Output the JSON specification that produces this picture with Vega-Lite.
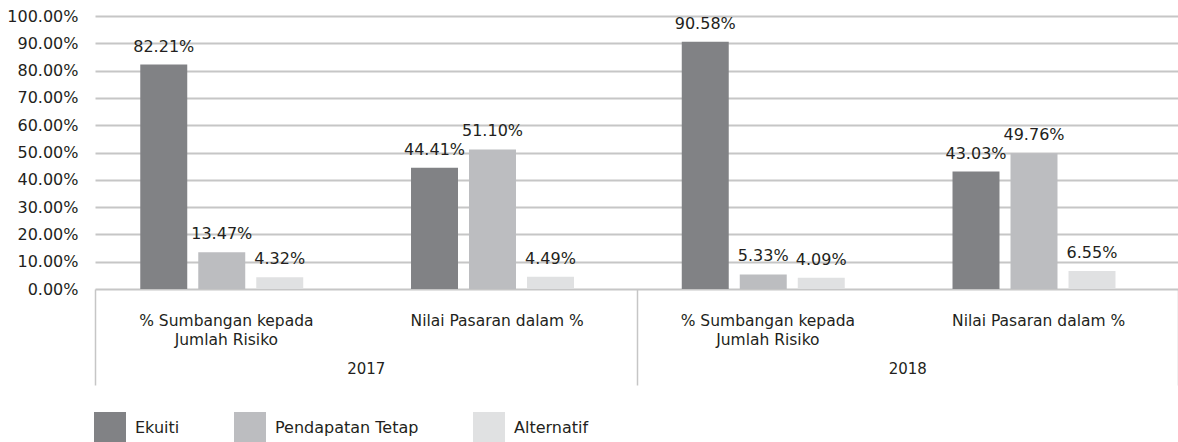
{
  "$schema": "https://vega.github.io/schema/vega-lite/v6.json",
  "width": 1083,
  "height": 273,
  "autosize": {"type": "none"},
  "padding": {"left": 95, "top": 16, "right": 0, "bottom": 153},
  "background": "white",
  "config": {
    "view": {"stroke": null},
    "font": "DejaVu Sans",
    "axis": {"labelFont": "DejaVu Sans", "labelColor": "#231f20"},
    "legend": {"labelFont": "DejaVu Sans", "labelColor": "#231f20"}
  },
  "data": {
    "values": [
      {"tahun": "2017", "kumpulan": "2017|% Sumbangan kepada|Jumlah Risiko", "jenis": "Ekuiti", "nilai": 0.8221},
      {"tahun": "2017", "kumpulan": "2017|% Sumbangan kepada|Jumlah Risiko", "jenis": "Pendapatan Tetap", "nilai": 0.1347},
      {"tahun": "2017", "kumpulan": "2017|% Sumbangan kepada|Jumlah Risiko", "jenis": "Alternatif", "nilai": 0.0432},
      {"tahun": "2017", "kumpulan": "2017|Nilai Pasaran dalam %", "jenis": "Ekuiti", "nilai": 0.4441},
      {"tahun": "2017", "kumpulan": "2017|Nilai Pasaran dalam %", "jenis": "Pendapatan Tetap", "nilai": 0.5110},
      {"tahun": "2017", "kumpulan": "2017|Nilai Pasaran dalam %", "jenis": "Alternatif", "nilai": 0.0449},
      {"tahun": "2018", "kumpulan": "2018|% Sumbangan kepada|Jumlah Risiko", "jenis": "Ekuiti", "nilai": 0.9058},
      {"tahun": "2018", "kumpulan": "2018|% Sumbangan kepada|Jumlah Risiko", "jenis": "Pendapatan Tetap", "nilai": 0.0533},
      {"tahun": "2018", "kumpulan": "2018|% Sumbangan kepada|Jumlah Risiko", "jenis": "Alternatif", "nilai": 0.0409},
      {"tahun": "2018", "kumpulan": "2018|Nilai Pasaran dalam %", "jenis": "Ekuiti", "nilai": 0.4303},
      {"tahun": "2018", "kumpulan": "2018|Nilai Pasaran dalam %", "jenis": "Pendapatan Tetap", "nilai": 0.4976},
      {"tahun": "2018", "kumpulan": "2018|Nilai Pasaran dalam %", "jenis": "Alternatif", "nilai": 0.0655}
    ]
  },
  "encoding": {
    "y": {
      "field": "nilai", "type": "quantitative",
      "scale": {"domain": [0, 1], "nice": false, "zero": true},
      "axis": {
        "title": null, "format": ".2%",
        "values": [0, 0.1, 0.2, 0.3, 0.4, 0.5, 0.6, 0.7, 0.8, 0.9, 1],
        "labelOverlap": false,
        "domain": false, "ticks": false, "labelPadding": 17, "labelFontSize": 16,
        "gridColor": "#c6c6c6", "gridWidth": 2
      }
    }
  },
  "layer": [
    {
      "mark": {"type": "bar"},
      "encoding": {
        "x": {
          "field": "kumpulan", "type": "nominal", "sort": null,
          "scale": {"paddingInner": 0, "paddingOuter": 0},
          "axis": {
            "title": null, "labelExpr": "slice(split(datum.value, '|'), 1)",
            "domain": false, "ticks": false, "grid": false, "labelAngle": 0,
            "labelPadding": 24, "labelFontSize": 15.5, "labelLineHeight": 19,
            "labelBaseline": "top", "labelLimit": 400, "labelOverlap": false, "labelBound": false,
            "labelOffset": -4
          }
        },
        "xOffset": {
          "field": "jenis", "type": "nominal",
          "sort": ["Ekuiti", "Pendapatan Tetap", "Alternatif"],
          "scale": {"paddingInner": 0.19, "paddingOuter": 0.929, "align": 0.42}
        },
        "color": {
          "field": "jenis", "type": "nominal",
          "sort": ["Ekuiti", "Pendapatan Tetap", "Alternatif"],
          "scale": {"domain": ["Ekuiti", "Pendapatan Tetap", "Alternatif"], "range": ["#818285", "#bcbdc0", "#e0e1e2"]},
          "legend": {
            "orient": "none", "legendX": -1, "legendY": 396, "direction": "horizontal",
            "title": null, "symbolType": "square", "symbolSize": 1024, "symbolStrokeWidth": 0,
            "symbolOpacity": 1, "labelFontSize": 16, "labelOffset": 9, "columnPadding": 54, "padding": 0
          }
        }
      }
    },
    {
      "mark": {"type": "text", "baseline": "alphabetic", "dy": -13, "fontSize": 16, "color": "#231f20"},
      "encoding": {
        "x": {
          "field": "kumpulan", "type": "nominal", "sort": null,
          "scale": {"paddingInner": 0, "paddingOuter": 0},
          "axis": null
        },
        "xOffset": {
          "field": "jenis", "type": "nominal",
          "sort": ["Ekuiti", "Pendapatan Tetap", "Alternatif"],
          "scale": {"paddingInner": 0.19, "paddingOuter": 0.929, "align": 0.42}
        },
        "text": {"field": "nilai", "type": "quantitative", "format": ".2%"}
      }
    },
    {
      "mark": {"type": "point", "opacity": 0},
      "encoding": {
        "x": {
          "field": "tahun", "type": "nominal",
          "scale": {"paddingInner": 0, "paddingOuter": 0},
          "axis": {
            "orient": "bottom", "title": null, "domain": false, "grid": false,
            "tickBand": "extent", "ticks": true, "tickSize": 96, "tickColor": "#c6c6c6", "tickWidth": 1.5,
            "labelPadding": -24, "labelBaseline": "top", "labelAngle": 0, "labelFontSize": 15
          }
        }
      }
    }
  ],
  "resolve": {"scale": {"x": "independent"}, "axis": {"x": "independent"}}
}
